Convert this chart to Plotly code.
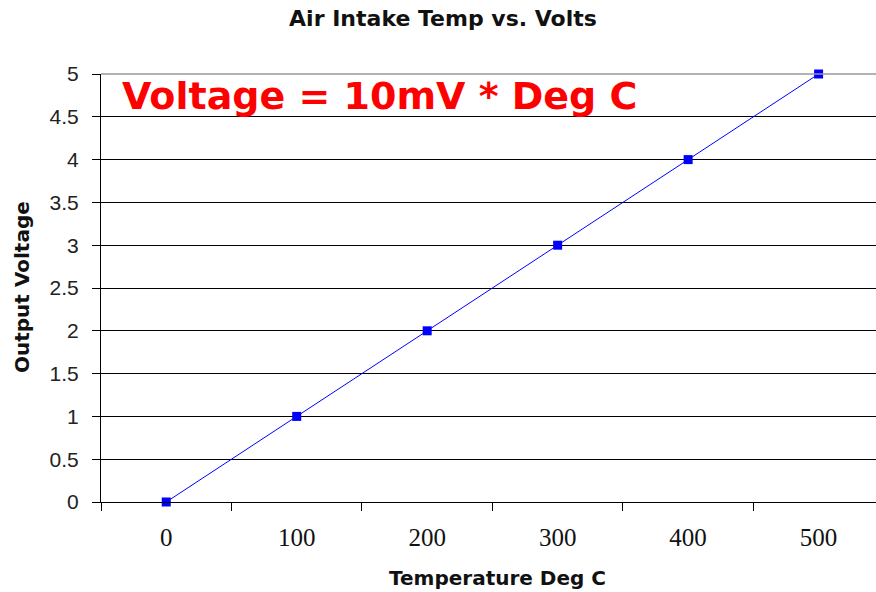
import plotly.graph_objects as go

temps = [0, 100, 200, 300, 400, 500]
volts = [0, 1, 2, 3, 4, 5]
x_tick_labels = ["0", "100", "200", "300", "400", "500"]
y_tick_vals = [0, 0.5, 1, 1.5, 2, 2.5, 3, 3.5, 4, 4.5, 5]
y_tick_labels = ["0", "0.5", "1", "1.5", "2", "2.5", "3", "3.5", "4", "4.5", "5"]

W, H = 876, 592
L, R, T, B = 101, 0, 74, 90
pw = W - L - R
ph = H - T - B

fig = go.Figure()
fig.add_trace(go.Scatter(
    x=temps, y=volts, mode="lines+markers",
    line=dict(color="#0000FF", width=1),
    marker=dict(symbol="square", size=9, color="#0000FF"),
    showlegend=False, cliponaxis=False,
))

fig.update_layout(
    width=W, height=H,
    margin=dict(l=L, r=R, t=T, b=B),
    paper_bgcolor="white", plot_bgcolor="white",
    title=dict(text="<b>Air Intake Temp vs. Volts</b>", x=443 / W, xanchor="center",
               y=1 - 18 / H, yanchor="middle",
               font=dict(family="DejaVu Sans", size=22, color="#111")),
    xaxis=dict(
        range=[-50, -50 + pw / 1.3047], tickmode="array", tickvals=temps, ticktext=x_tick_labels,
        ticks="", showgrid=False, zeroline=False,
        showline=True, linecolor="#000", linewidth=1,
        ticklabelstandoff=13,
        tickfont=dict(family="Liberation Serif", size=25, color="#111"),
        minor=dict(tickvals=[-50, 50, 150, 250, 350, 450], ticks="outside", ticklen=8,
                   tickcolor="#000", tickwidth=1, showgrid=False),
    ),
    yaxis=dict(
        range=[0, 5], tickmode="array", tickvals=y_tick_vals, ticktext=y_tick_labels,
        ticks="outside", ticklen=8, tickcolor="#000", tickwidth=1,
        showgrid=True, gridcolor="#000", gridwidth=1, zeroline=False,
        showline=True, linecolor="#000", linewidth=1,
        ticklabelstandoff=9,
        tickfont=dict(family="Liberation Sans", size=21, color="#222"),
    ),
)

fig.add_shape(type="line", xref="paper", yref="paper", x0=0, x1=1, y0=1, y1=1,
              line=dict(color="#999", width=1.5))

fig.add_annotation(text="<b>Voltage = 10mV * Deg C</b>", xref="paper", yref="paper",
                   x=(120 - L) / pw, xanchor="left", y=(502 - 96) / ph, yanchor="middle",
                   showarrow=False, font=dict(family="DejaVu Sans", size=38, color="#FF0000"))
fig.add_annotation(text="<b>Temperature Deg C</b>", xref="paper", yref="paper",
                   x=(497 - L) / pw, xanchor="center", y=0, yanchor="middle", yshift=-76,
                   showarrow=False, font=dict(family="DejaVu Sans", size=20, color="#111"))
fig.add_annotation(text="<b>Output Voltage</b>", xref="paper", yref="paper",
                   x=(22 - L) / pw, xanchor="center", y=(502 - 287) / ph, yanchor="middle",
                   textangle=-90, showarrow=False,
                   font=dict(family="DejaVu Sans", size=20, color="#111"))

fig.write_html(
    "out.html",
    config={"displayModeBar": False},
    post_script="document.body.style.margin='0';document.body.style.overflow='hidden';",
)
